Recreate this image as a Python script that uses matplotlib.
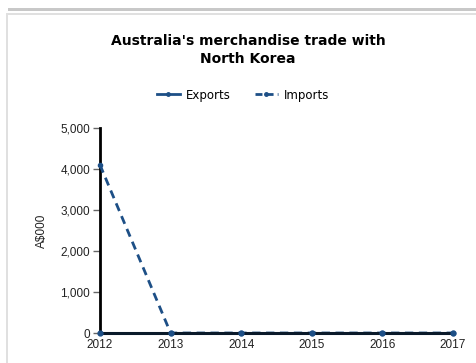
import matplotlib.pyplot as plt
from matplotlib.lines import Line2D
from matplotlib.patches import Rectangle

years = [2012, 2013, 2014, 2015, 2016, 2017]
exports = [0, 0, 0, 0, 0, 0]
imports = [4100, 0, 0, 0, 0, 0]
yticks = [0, 1000, 2000, 3000, 4000, 5000]

blue = "#1d4f86"
W, H = 477, 363

fig = plt.figure(figsize=(W / 100, H / 100), dpi=100)

# panel frame like the web page
fig.patches.append(Rectangle((8 / W, 1 - 11 / H), 1, 3 / H, transform=fig.transFigure,
                             color="#c8c8c8", lw=0))
fig.patches.append(Rectangle((6 / W, 1 - 15 / H), 1, 2 / H, transform=fig.transFigure,
                             color="#e0e0e0", lw=0))
fig.patches.append(Rectangle((6 / W, 0), 2 / W, 1 - 15 / H, transform=fig.transFigure,
                             color="#e0e0e0", lw=0))

ax = fig.add_axes([100 / W, 1 - 333 / H, 353 / W, 205 / H])

ax.plot(years, imports, color=blue, lw=2, linestyle=(0, (3, 2)), marker="o", ms=3,
        clip_on=False, zorder=3)
ax.plot(years, exports, color="#0a1a2a", lw=2.2, marker="o", ms=3.5,
        markerfacecolor=blue, markeredgecolor=blue, clip_on=False, zorder=4)

ax.set_xlim(2012, 2017)
ax.set_ylim(0, 5000)
ax.set_xticks(years)
ax.set_yticks(yticks)
ax.set_yticklabels([f"{v:,}" for v in yticks])

for s in ["top", "right"]:
    ax.spines[s].set_visible(False)
ax.spines["left"].set_linewidth(2)
ax.spines["bottom"].set_linewidth(2)
ax.tick_params(axis="x", length=0, pad=4, labelsize=8.5)
ax.tick_params(axis="y", length=5, width=1, color="#666666", pad=2, labelsize=8.5)
for lab in ax.get_xticklabels() + ax.get_yticklabels():
    lab.set_family("Liberation Sans")
    lab.set_color("#222222")

ax.set_ylabel("A$000", family="Liberation Sans", fontsize=8.5, color="#222222", labelpad=9)

fig.text(248 / W, 1 - 50 / H, "Australia's merchandise trade with\nNorth Korea",
         ha="center", va="center", fontsize=10, fontweight="bold", linespacing=1.35)

handles = [
    Line2D([], [], color=blue, lw=2, marker="o", ms=2.5),
    Line2D([], [], color=blue, lw=2, linestyle=(0, (2.5, 1.5)), marker="o", ms=2.5),
]
fig.legend(handles, ["Exports", "Imports"], loc="center", bbox_to_anchor=(243 / W, 1 - 95 / H),
           ncol=2, frameon=False, handlelength=2, columnspacing=2, handletextpad=0.5,
           prop={"family": "DejaVu Sans", "size": 8.5})

fig.savefig("out.png", dpi=100)
